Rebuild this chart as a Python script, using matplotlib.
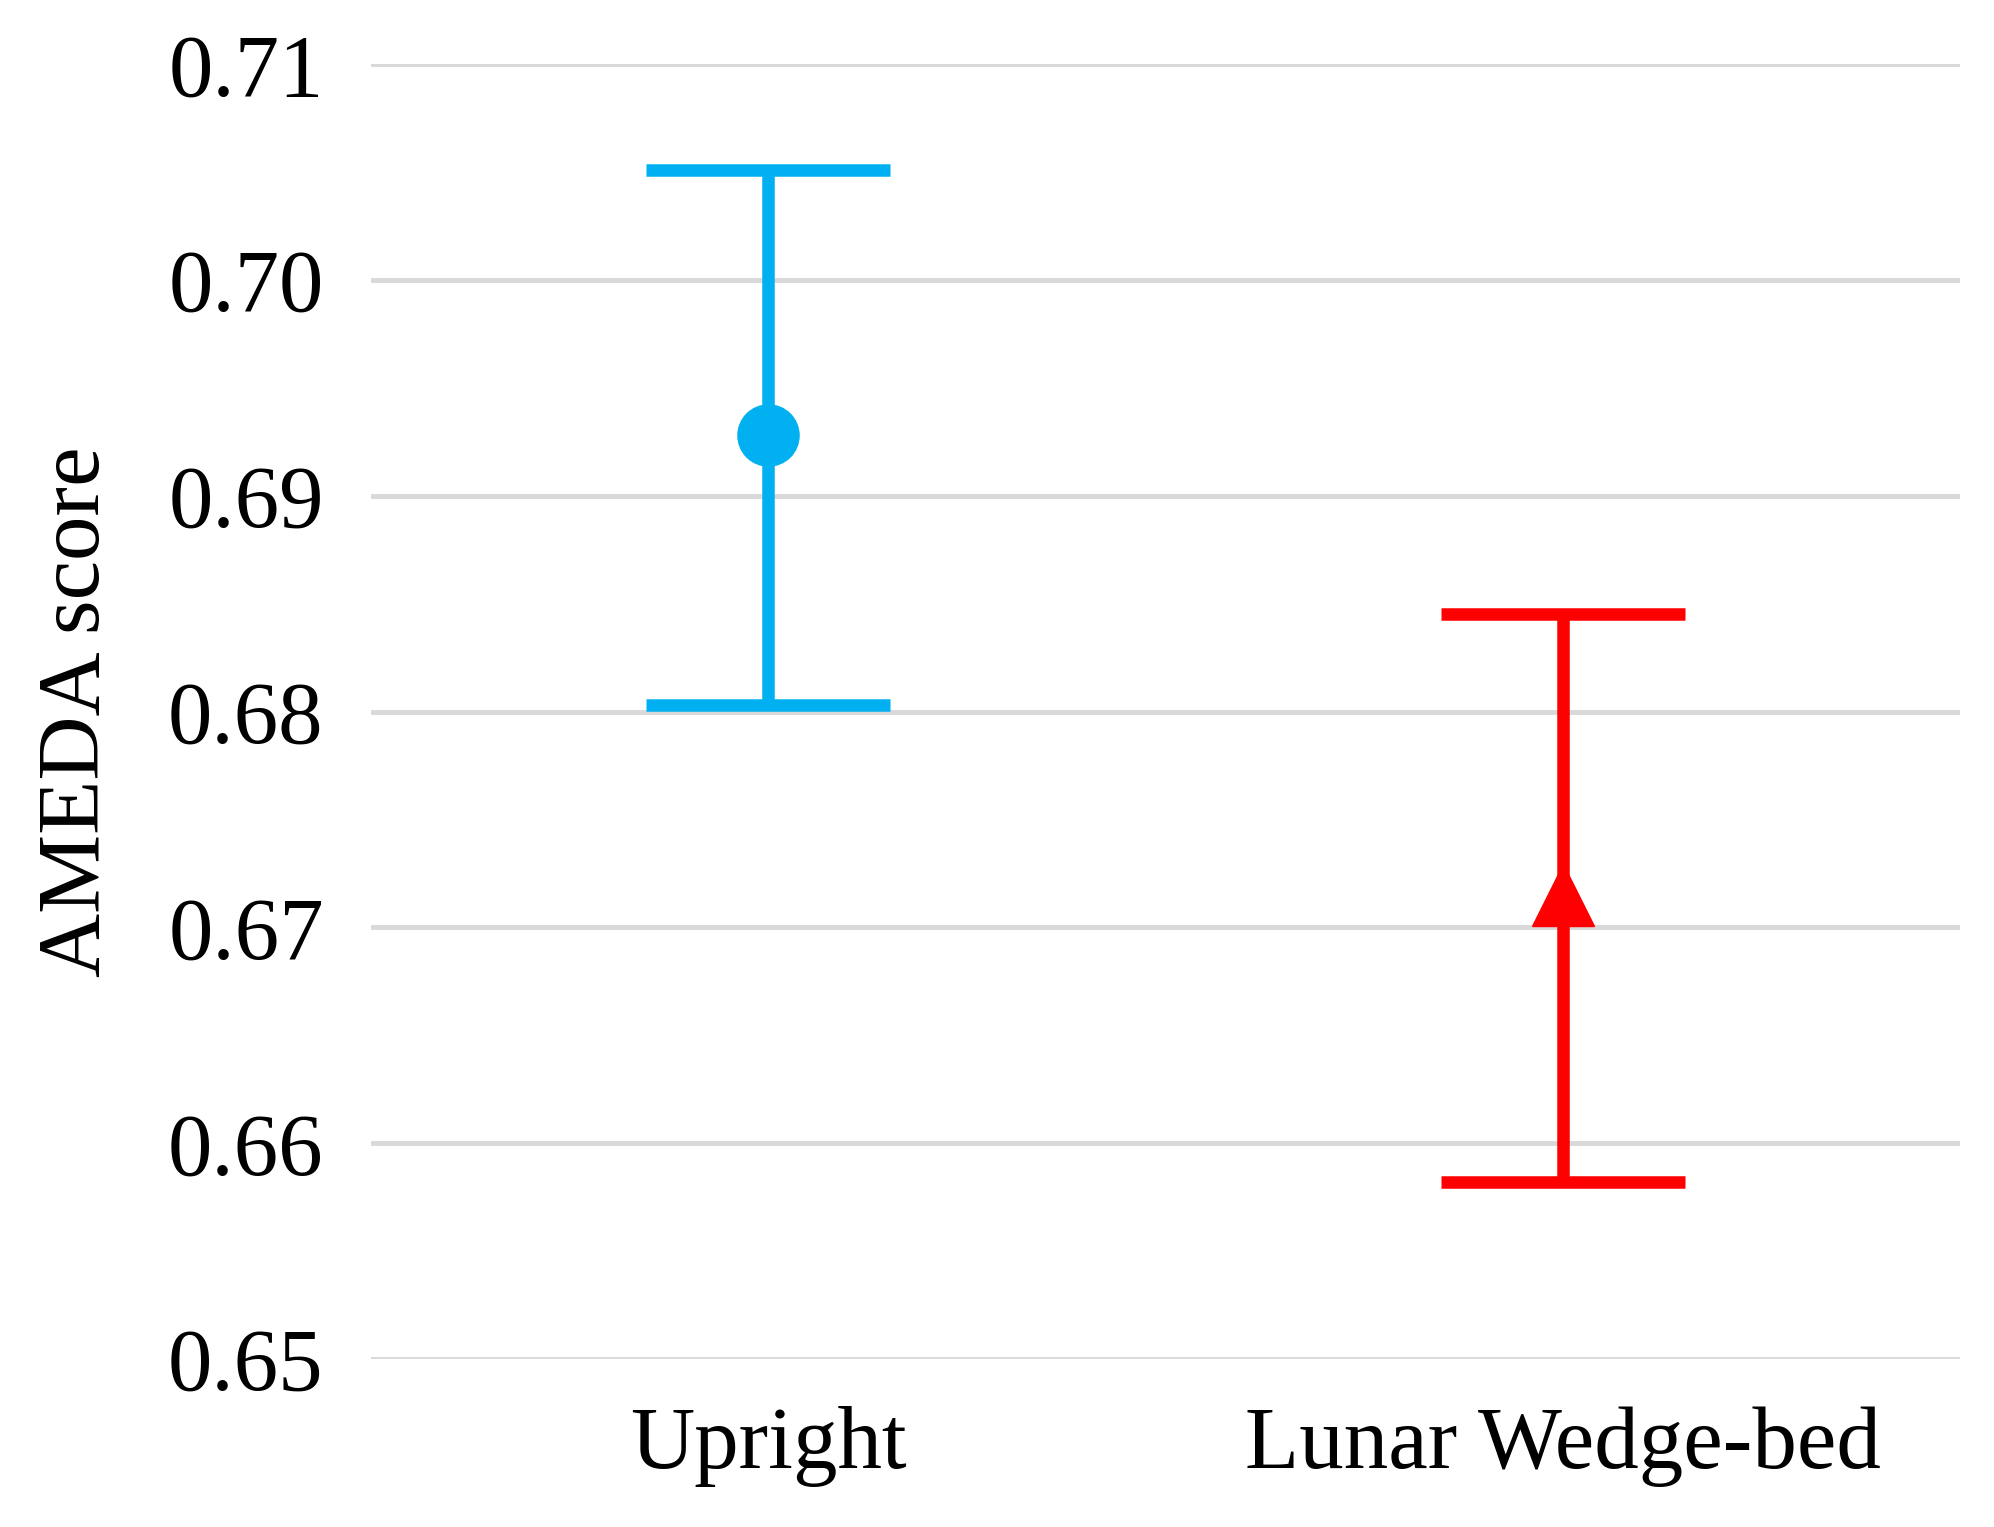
"""AMEDA score by posture - mean with error bars."""

import matplotlib

matplotlib.use("Agg")
import matplotlib.pyplot as plt

categories = ["Upright", "Lunar Wedge-bed"]
means = [0.6928, 0.6715]
upper = [0.7051, 0.6845]
lower = [0.6803, 0.6582]
colors = ["#00B0F0", "#FF0000"]
markers = ["o", "^"]
yticks = [0.65, 0.66, 0.67, 0.68, 0.69, 0.70, 0.71]

plt.rcParams["font.family"] = ["Liberation Serif", "DejaVu Serif"]

fig = plt.figure(figsize=(19.94, 15.27), dpi=100)
ax = fig.add_axes([0.186, 0.11, 0.797, 0.848])

for i, (m, hi, lo, c, mk) in enumerate(zip(means, upper, lower, colors, markers)):
    ax.errorbar(
        i, m, yerr=[[m - lo], [hi - m]],
        fmt=mk, color=c, ecolor=c, elinewidth=9, capsize=88, capthick=9,
        markersize=44, zorder=3,
    )

ax.set_xlim(-0.5, 1.5)
ax.set_ylim(0.65, 0.71)
ax.set_yticks(yticks)
ax.set_yticklabels([f"{t:.2f}" for t in yticks])
ax.set_xticks(range(len(categories)))
ax.set_xticklabels(categories)
ax.tick_params(axis="both", length=0, labelsize=64, pad=34)
ax.yaxis.grid(True, color="#D9D9D9", lw=3.5)
ax.set_axisbelow(True)
for s in ax.spines.values():
    s.set_visible(False)
ax.set_ylabel("AMEDA score", fontsize=64, labelpad=36)

fig.savefig("out.png", dpi=100, facecolor="white")
